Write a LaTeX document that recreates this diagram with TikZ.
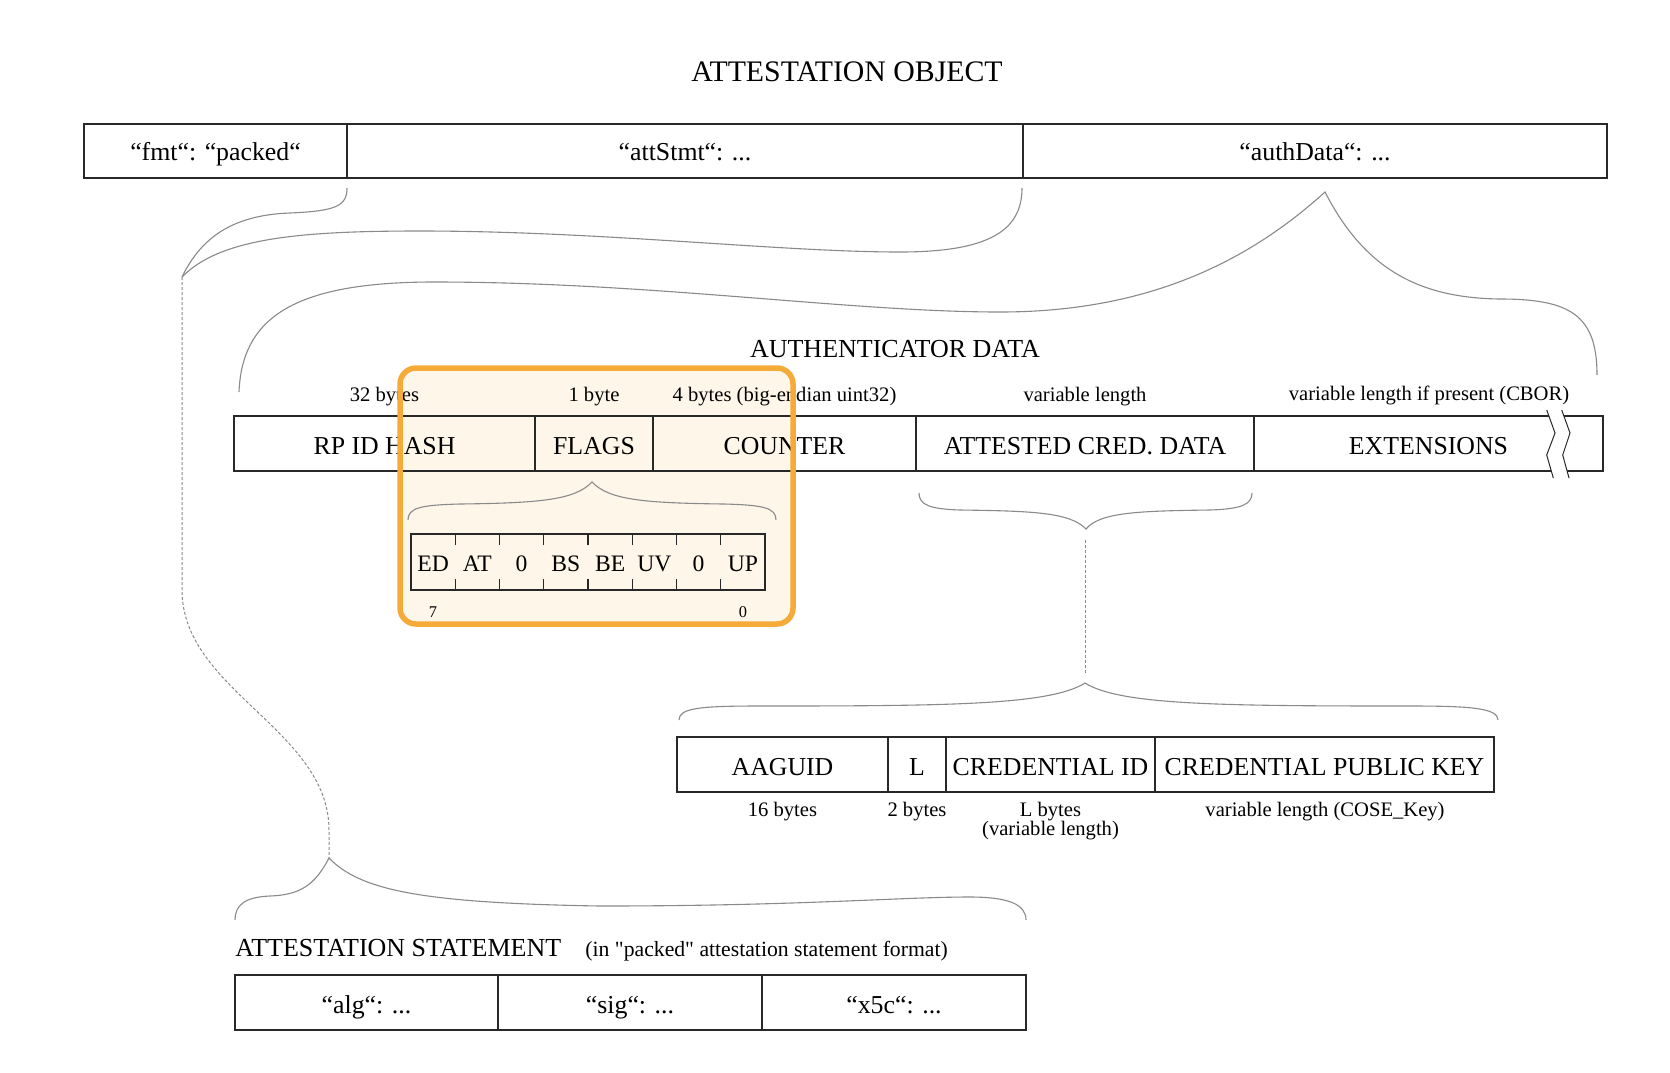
\documentclass[tikz,border=0pt]{standalone}
\usepackage{fontspec}
\setmainfont{Liberation Serif}
\newfontfamily\plainserif{Liberation Serif}
\definecolor{hlstroke}{RGB}{245,171,58}
\definecolor{hlfill}{RGB}{254,246,233}
\definecolor{bracegray}{RGB}{138,138,138}
\definecolor{cellline}{RGB}{40,40,40}
\begin{document}
\begin{tikzpicture}[x=0.5pt,y=-0.5pt,
  cell/.style={draw=cellline, line width=0.7pt, minimum height=27.5pt, inner sep=0pt, outer sep=0pt, text height=11.2pt, text depth=0pt, font=\fontsize{12.9}{15}\selectfont},
  topcell/.style={cell, minimum height=27pt, text height=9.6pt},
  bigtitle/.style={font=\fontsize{14.9}{17}\selectfont, inner sep=0pt},
  sect/.style={font=\fontsize{13}{15}\selectfont, inner sep=0pt},
  sizelab/.style={font=\fontsize{10.3}{12}\selectfont, inner sep=0pt},
  bitlab/.style={font=\fontsize{11.8}{14}\selectfont, inner sep=0pt},
  bitnum/.style={font=\fontsize{8.2}{10}\selectfont, inner sep=0pt},
  bracepath/.style={draw=bracegray, line width=0.55pt},
  link/.style={draw=bracegray, line width=0.5pt, dash pattern=on 1.5pt off 1pt},
  bittick/.style={draw=cellline, line width=0.6pt},
]
\useasboundingbox[fill=white] (0,0) rectangle (1670,1072);

% highlight background
\fill[hlfill, rounded corners=8pt] (400,368) rectangle (793,624);

\node[bigtitle] (title) at (847,72) {ATTESTATION OBJECT};

% top row
\node[topcell, minimum width=131.5pt] (fmt) at (215.5,151) {“fmt“: “packed“};
\node[topcell, minimum width=338pt] (att) at (685,151) {“attStmt“: ...};
\node[topcell, minimum width=292pt] (auth) at (1315,151) {“authData“: ...};

% brace coordinates
\coordinate (fmtEnd) at (347,188);
\coordinate (attEnd) at (1022,188);
\coordinate (objTip) at (182,277);
\coordinate (authTip) at (1325,192);
\coordinate (adL) at (239,392);
\coordinate (adR) at (1597,375);
\coordinate (flTip) at (592,482);
\coordinate (flL) at (408,520);
\coordinate (flR) at (776,520);
\coordinate (acdL) at (919,493);
\coordinate (acdR) at (1252,493);
\coordinate (acdTip) at (1086,529);
\coordinate (acdLink) at (1085,540);
\coordinate (credLink) at (1085,673);
\coordinate (credTip) at (1085,683);
\coordinate (credL) at (679,720);
\coordinate (credR) at (1498,720);
\coordinate (stTip) at (329,858);
\coordinate (stL) at (235,920);
\coordinate (stR) at (1026,920);

% brace: fmt + attStmt -> tip
\draw[bracepath] (fmtEnd) .. controls (347,206) and (336,211) .. (290,213)
   .. controls (230,215) and (200,240) .. (objTip);
\draw[bracepath] (objTip) .. controls (220,238) and (300,231) .. (420,231)
   .. controls (600,231) and (780,252) .. (900,252)
   .. controls (990,252) and (1022,230) .. (attEnd);

% brace: authData -> authenticator data
\draw[bracepath] (adL) .. controls (242,320) and (290,282) .. (434,282)
   .. controls (650,282) and (850,312) .. (1000,312)
   .. controls (1150,312) and (1250,260) .. (authTip)
   .. controls (1365,270) and (1420,298) .. (1500,299)
   .. controls (1570,299) and (1597,315) .. (adR);

% dashed link to attestation statement
\draw[link] (objTip) -- (182,590) .. controls (182,690) and (329,730) .. (329,830) -- (stTip);

\node[sect] (adtitle) at (895,349) {AUTHENTICATOR DATA};

% size labels
\node[sizelab] (s1) at (384.5,396.5) {32 bytes};
\node[sizelab] (s2) at (594,396.5) {1 byte};
\node[sizelab] (s3) at (784.5,396.5) {4 bytes (big-endian uint32)};
\node[sizelab] (s4) at (1085,396.5) {variable length};
\node[sizelab] (s5) at (1429,395.5) {variable length if present (CBOR)};

% authenticator data row
\node[cell, minimum width=150.5pt] (rp) at (384.5,443.5) {RP ID HASH};
\node[cell, minimum width=59pt] (flags) at (594,443.5) {FLAGS};
\node[cell, minimum width=131.5pt] (counter) at (784.5,443.5) {COUNTER};
\node[cell, minimum width=169pt] (acd) at (1085,443.5) {ATTESTED CRED. DATA};
\node[cell, minimum width=174.5pt] (ext) at (1428.5,443.5) {EXTENSIONS};

% break marks
\fill[white] (1546.7,410) -- (1555,433) -- (1546.7,455) -- (1553.3,478)
   -- (1569,478) -- (1562.7,455) -- (1570,433) -- (1561.7,410) -- cycle;
\draw[cellline, line width=0.5pt] (1546.7,410) -- (1555,433) -- (1546.7,455) -- (1553.3,478);
\draw[cellline, line width=0.5pt] (1561.7,410) -- (1570,433) -- (1562.7,455) -- (1569,478);

% flags brace
\draw[bracepath] (flL) .. controls (408,508) and (420,505) .. (460,504)
   .. controls (540,503) and (575,500) .. (flTip)
   .. controls (609,500) and (644,503) .. (724,504)
   .. controls (764,505) and (776,508) .. (flR);

% flag bits
\node[draw=cellline, line width=0.7pt, minimum width=177pt, minimum height=28pt, inner sep=0pt] (bits) at (588,562) {};
\foreach \k in {1,...,7} {
  \draw[bittick] (411+44.25*\k,534) -- ++(0,11);
  \draw[bittick] (411+44.25*\k,590) -- ++(0,-11);
}
\foreach \t [count=\i from 0] in {ED,AT,0,BS,BE,UV,0,UP}
  \node[bitlab] (bit\i) at (433.1+44.25*\i,564) {\t};
\node[bitnum] (b7) at (433,612) {7};
\node[bitnum] (b0) at (743,612) {0};

% attested cred data brace
\draw[bracepath] (acdL) .. controls (919,505) and (930,509) .. (960,510)
   .. controls (1030,511) and (1070,512) .. (acdTip)
   .. controls (1100,512) and (1140,511) .. (1210,510)
   .. controls (1240,509) and (1252,505) .. (acdR);
\draw[link] (acdLink) -- (credLink);

% credential brace
\draw[bracepath] (credL) .. controls (679,708) and (700,706) .. (760,706)
   .. controls (950,706) and (1050,705) .. (credTip)
   .. controls (1120,705) and (1220,706) .. (1410,706)
   .. controls (1470,706) and (1498,708) .. (credR);

% credential row
\node[cell, minimum width=105.5pt] (aaguid) at (782.5,764.5) {AAGUID};
\node[cell, minimum width=29pt] (len) at (917,764.5) {L};
\node[cell, minimum width=104.5pt] (credid) at (1050.5,764.5) {CREDENTIAL ID};
\node[cell, minimum width=169.5pt] (pubkey) at (1324.5,764.5) {CREDENTIAL PUBLIC KEY};

\node[sizelab] (c1) at (782.5,812) {16 bytes};
\node[sizelab] (c2) at (917,812) {2 bytes};
\node[sizelab] (c3) at (1050.5,812) {L bytes};
\node[sizelab] (c3b) at (1050.5,831) {(variable length)};
\node[sizelab] (c4) at (1325,812) {variable length (COSE\_Key)};

% attestation statement brace
\draw[bracepath] (stL) .. controls (235,905) and (245,897) .. (270,896)
   .. controls (300,895) and (315,885) .. (stTip)
   .. controls (360,890) and (420,903) .. (600,906)
   .. controls (800,906) and (900,897) .. (970,897)
   .. controls (1010,897) and (1026,905) .. (stR);

\node[sect, anchor=base west] (sttitle) at (235,956) {ATTESTATION STATEMENT};
\node[inner sep=0pt, anchor=base west, font={\plainserif\fontsize{10.85}{12}\selectfont}] (stnote) at (585,956) {(in "packed" attestation statement format)};

\node[cell, minimum width=131.5pt] (alg) at (366.5,1002.5) {“alg“: ...};
\node[cell, minimum width=132pt] (sig) at (630,1002.5) {“sig“: ...};
\node[cell, minimum width=132pt] (x5c) at (894,1002.5) {“x5c“: ...};

% highlight outline on top
\node[draw=hlstroke, line width=2.75pt, rounded corners=8pt, minimum width=196.5pt, minimum height=128pt, inner sep=0pt] (hl) at (596.5,496) {};
\end{tikzpicture}
\end{document}
